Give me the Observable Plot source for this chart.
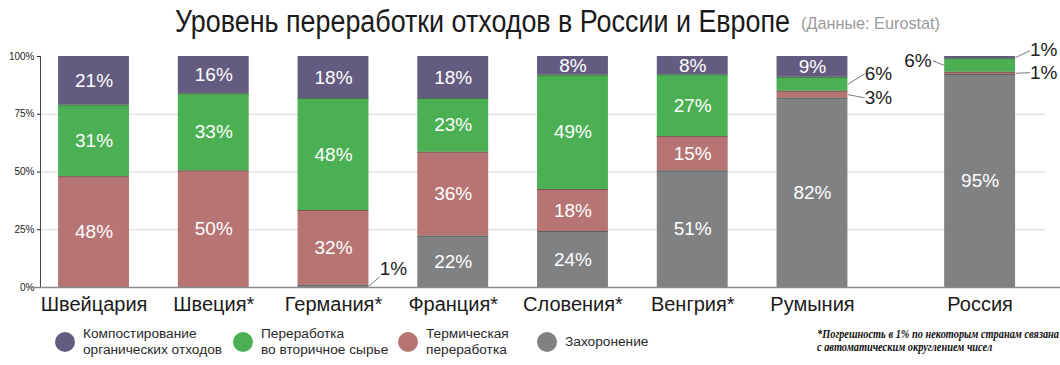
<!DOCTYPE html>
<html lang="ru">
<head>
<meta charset="utf-8">
<script src="https://cdn.jsdelivr.net/npm/d3@7"></script>
<script src="https://cdn.jsdelivr.net/npm/@observablehq/plot@0.6"></script>
<style>
html,body{margin:0;padding:0;background:#fff;}
body{position:relative;width:1060px;height:365px;overflow:hidden;font-family:"Liberation Sans",Arial,Helvetica,sans-serif;}
.fit{position:absolute;white-space:nowrap;display:inline-block;transform-origin:0 50%;}
#t-main{left:175px;top:2px;line-height:40px;font-size:31px;color:#1a1a1a;}
#t-sub{left:801px;top:13px;line-height:22px;font-size:17px;color:#9a9a9a;}
#chart{position:absolute;left:0;top:36px;}
.lg{position:absolute;top:332px;height:20px;}
.lg .dot{position:absolute;left:0;top:0;width:20px;height:20px;border-radius:50%;}
.lg .txt{position:absolute;left:28px;top:50%;transform:translateY(-50%);white-space:nowrap;font-size:13.7px;line-height:16px;color:#2a2a2a;}
#note{left:817px;top:328px;font-family:"Liberation Serif","Times New Roman",serif;font-style:italic;font-weight:bold;font-size:12px;line-height:13px;color:#111;transform-origin:0 0;}
</style>
</head>
<body>
<div id="t-main" class="fit">Уровень переработки отходов в России и Европе</div>
<div id="t-sub" class="fit">(Данные: Eurostat)</div>
<div id="chart"></div>
<div id="legend"></div>
<div id="note" class="fit">*Погрешность в 1% по некоторым странам связана<br>с автоматическим округлением чисел</div>
<script>
// ---- data ----
const countries = ["Швейцария", "Швеция*", "Германия*", "Франция*", "Словения*", "Венгрия*", "Румыния", "Россия"];
const categories = ["Захоронение", "Термическая переработка", "Переработка во вторичное сырье", "Компостирование органических отходов"];
const landfill  = [0, 0, 1, 22, 24, 51, 82, 95];
const thermal   = [48, 50, 32, 36, 18, 15, 3, 1];
const recycling = [31, 33, 48, 23, 49, 27, 6, 6];
const compost   = [21, 16, 18, 18, 8, 8, 9, 1];
const yTicks = [0, 25, 50, 75, 100];
const legendLines = [["Компостирование", "органических отходов"], ["Переработка", "во вторичное сырье"], ["Термическая", "переработка"], ["Захоронение"]];
const legendCats = [3, 2, 1, 0];

// ---- style / layout ----
const palette = ["#808182", "#b67472", "#4bb053", "#645c80"];
const GAP = 0.4, HALF = 0.296;
const xDomain = [-0.447, 7.946];
const legendLeft = [55, 233, 398, 537];
const fitWidths = {"t-main": 615, "t-sub": 139, "note": 242};
// small-segment callouts: leader end offset (slot units, percent units), side, text y shift
const callouts = [
  {country: "Германия*", cat: 0, side: 1, ox: 0.09, oy: 4.2, ty: 3.5},
  {country: "Румыния", cat: 2, side: 1, ox: 0.14, oy: 4.5, ty: 0},
  {country: "Румыния", cat: 1, side: 1, ox: 0.14, oy: -1.4, ty: 0},
  {country: "Россия", cat: 2, side: -1, ox: 0.10, oy: 2.0, ty: 0},
  {country: "Россия", cat: 3, side: 1, ox: 0.12, oy: 3.0, ty: 0.5},
  {country: "Россия", cat: 1, side: 1, ox: 0.12, oy: 0.3, ty: 0}
];

const seriesValues = [landfill, thermal, recycling, compost];
const slotOf = i => i + (i === countries.length - 1 ? GAP : 0);
const slots = countries.map((c, i) => slotOf(i));
const nameBySlot = new Map(slots.map((s, i) => [s, countries[i]]));

const rows = [];
countries.forEach((c, i) => {
  const total = d3.sum(seriesValues, s => s[i]);
  let acc = 0;
  seriesValues.forEach((s, k) => {
    const v = s[i];
    const y1 = acc / total * 100; acc += v; const y2 = acc / total * 100;
    rows.push({country: c, slot: slotOf(i), cat: categories[k], k, value: v, y1, y2, mid: (y1 + y2) / 2});
  });
});

const cRows = callouts.map(co => {
  const r = rows.find(d => d.country === co.country && d.k === co.cat);
  const xs = r.slot + co.side * HALF;
  return {side: co.side, text: r.value + "%", x1: xs, y1: r.mid, x2: xs + co.side * co.ox, y2: r.mid + co.oy, ty: r.mid + co.oy + co.ty};
});

const chart = Plot.plot({
  width: 1060,
  height: 284,
  marginTop: 20,
  marginBottom: 33,
  marginLeft: 40,
  marginRight: 15,
  style: {fontFamily: "'Liberation Sans', Arial, Helvetica, sans-serif", background: "transparent", overflow: "visible", color: "#222"},
  x: {type: "linear", domain: xDomain},
  y: {domain: [0, 100]},
  color: {domain: categories, range: palette},
  marks: [
    Plot.gridY(yTicks.filter(t => t > 0 && t < 100), {stroke: "#d6d6d6", strokeOpacity: 1}),
    Plot.rect(rows, {x1: d => d.slot - HALF, x2: d => d.slot + HALF, y1: "y1", y2: "y2", fill: "cat"}),
    Plot.ruleY(rows.filter(d => d.y1 > 0 && d.value > 0), {y: "y1", x1: d => d.slot - HALF, x2: d => d.slot + HALF, stroke: "#333", strokeOpacity: 0.45}),
    Plot.text(rows.filter(d => d.value >= 8), {x: "slot", y: "mid", text: d => d.value + "%", fill: "white", fontSize: 19}),
    Plot.link(cRows, {x1: "x1", y1: "y1", x2: "x2", y2: "y2", stroke: "#555", strokeWidth: 0.8}),
    Plot.text(cRows.filter(d => d.side > 0), {x: "x2", y: "ty", text: "text", textAnchor: "start", dx: 0, fill: "#222", fontSize: 19}),
    Plot.text(cRows.filter(d => d.side < 0), {x: "x2", y: "ty", text: "text", textAnchor: "end", dx: -1, fill: "#222", fontSize: 19}),
    Plot.axisY({ticks: yTicks, tickFormat: d => d + "%", tickSize: 3, tickPadding: 3, fontSize: 10, label: null}),
    Plot.ruleX([xDomain[0]], {y1: 0, y2: 100, stroke: "#444"}),
    Plot.ruleY([0], {stroke: "#8a8a8a", strokeWidth: 1.5, insetLeft: -13, insetRight: -15}),
    Plot.axisX({ticks: slots, tickFormat: s => nameBySlot.get(s), tickSize: 0, tickPadding: 9, fontSize: 20, fill: "#1a1a1a", label: null})
  ]
});
document.getElementById("chart").appendChild(chart);

// legend
const lg = document.getElementById("legend");
legendCats.forEach((k, j) => {
  const item = document.createElement("div");
  item.className = "lg";
  item.style.left = legendLeft[j] + "px";
  const dot = document.createElement("div");
  dot.className = "dot";
  dot.style.background = palette[k];
  const txt = document.createElement("div");
  txt.className = "txt";
  txt.innerHTML = legendLines[j].join("<br>");
  item.appendChild(dot); item.appendChild(txt);
  lg.appendChild(item);
});

// fit condensed texts horizontally
Object.entries(fitWidths).forEach(([id, w]) => {
  const el = document.getElementById(id);
  const cur = el.getBoundingClientRect().width;
  if (cur > 0) el.style.transform = "scaleX(" + (w / cur) + ")";
});
</script>
</body>
</html>
